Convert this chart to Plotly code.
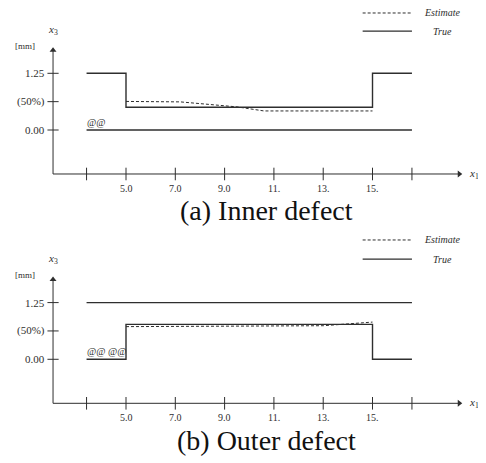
import plotly.graph_objects as go

# ---------------- data ----------------
x_tick_vals = [3.4, 5.0, 7.0, 9.0, 11.0, 13.0, 15.0, 16.6]
x_tick_text = ["", "5.0", "7.0", "9.0", "11.", "13.", "15.", ""]
y_tick_vals = [0.0, 0.625, 1.25]
y_tick_text = ["0.00", "(50%)", "1.25"]

# (a) inner defect
a_true_outer_x = [3.4, 5.0, 5.0, 15.0, 15.0, 16.6]
a_true_outer_y = [1.25, 1.25, 0.50, 0.50, 1.25, 1.25]
a_true_inner_x = [3.4, 16.6]
a_true_inner_y = [0.0, 0.0]
a_est_x = [5.0, 7.2, 9.5, 10.6, 15.0]
a_est_y = [0.63, 0.62, 0.51, 0.42, 0.42]

# (b) outer defect
b_true_outer_x = [3.4, 16.6]
b_true_outer_y = [1.25, 1.25]
b_true_inner_x = [3.4, 5.0, 5.0, 15.0, 15.0, 16.6]
b_true_inner_y = [0.0, 0.0, 0.77, 0.77, 0.0, 0.0]
b_est_x = [5.0, 7.6, 13.0, 15.0]
b_est_y = [0.72, 0.73, 0.74, 0.82]

captions = ["(a) Inner defect", "(b) Outer defect"]
legend_names = ["Estimate", "True"]
marks = ["@@", "@@ @@"]

# ---------------- style ----------------
INK = "#2e2e2e"
SERIF = "Liberation Serif"
AX_X0, AX_X1 = 2.04, 18.52
AX_Y0, AX_Y1 = -0.97, 1.76

fig = go.Figure()
annotations = []


def panel(xr, yr, true_sets, est, mark, caption, leg_y):
    for xs, ys in true_sets:
        fig.add_trace(go.Scatter(x=xs, y=ys, mode="lines", xaxis=xr, yaxis=yr,
                                 line=dict(color=INK, width=1.4), showlegend=False,
                                 hoverinfo="skip"))
    fig.add_trace(go.Scatter(x=est[0], y=est[1], mode="lines", xaxis=xr, yaxis=yr,
                             line=dict(color=INK, width=1, dash="3px,2px"),
                             showlegend=False, hoverinfo="skip"))
    # axes lines
    fig.add_trace(go.Scatter(x=[AX_X0, AX_X1], y=[AX_Y0, AX_Y0], mode="lines",
                             xaxis=xr, yaxis=yr, line=dict(color=INK, width=1),
                             showlegend=False, hoverinfo="skip"))
    fig.add_trace(go.Scatter(x=[AX_X0, AX_X0], y=[AX_Y0, AX_Y1], mode="lines",
                             xaxis=xr, yaxis=yr, line=dict(color=INK, width=1),
                             showlegend=False, hoverinfo="skip"))
    # arrow heads
    fig.add_trace(go.Scatter(x=[AX_X1], y=[AX_Y0], mode="markers", xaxis=xr, yaxis=yr,
                             marker=dict(symbol="triangle-right", size=6, color=INK),
                             showlegend=False, hoverinfo="skip"))
    fig.add_trace(go.Scatter(x=[AX_X0], y=[AX_Y1], mode="markers", xaxis=xr, yaxis=yr,
                             marker=dict(symbol="triangle-up", size=6, color=INK),
                             showlegend=False, hoverinfo="skip"))
    # ticks
    fig.add_trace(go.Scatter(x=x_tick_vals, y=[AX_Y0] * len(x_tick_vals), mode="markers",
                             xaxis=xr, yaxis=yr,
                             marker=dict(symbol="line-ns", size=9,
                                         line=dict(color=INK, width=1)),
                             showlegend=False, hoverinfo="skip"))
    fig.add_trace(go.Scatter(x=[AX_X0] * len(y_tick_vals), y=y_tick_vals, mode="markers",
                             xaxis=xr, yaxis=yr,
                             marker=dict(symbol="line-ew", size=8,
                                         line=dict(color=INK, width=1)),
                             showlegend=False, hoverinfo="skip"))
    # tick labels
    for v, t in zip(x_tick_vals, x_tick_text):
        if t:
            annotations.append(dict(x=v, y=AX_Y0 - 0.31, xref=xr, yref=yr, text=t,
                                    showarrow=False, xanchor="center", yanchor="middle",
                                    font=dict(family=SERIF, size=10, color=INK)))
    for v, t in zip(y_tick_vals, y_tick_text):
        annotations.append(dict(x=1.78, y=v, xref=xr, yref=yr, text=t,
                                showarrow=False, xanchor="right", yanchor="middle",
                                font=dict(family=SERIF, size=11, color=INK)))
    # axis labels
    annotations.append(dict(x=2.05, y=2.2, xref=xr, yref=yr,
                            text="<i>x</i><sub>3</sub>", showarrow=False,
                            font=dict(family=SERIF, size=11, color=INK)))
    annotations.append(dict(x=0.4, y=1.86, xref=xr, yref=yr, text="[mm]",
                            showarrow=False, xanchor="left", yanchor="middle",
                            font=dict(family=SERIF, size=9, color=INK)))
    annotations.append(dict(x=19.1, y=AX_Y0, xref=xr, yref=yr,
                            text="<i>x</i><sub>1</sub>", showarrow=False,
                            font=dict(family=SERIF, size=11, color=INK)))
    # marks
    annotations.append(dict(x=3.35, y=0.17, xref=xr, yref=yr, text=mark,
                            showarrow=False, xanchor="left", yanchor="middle",
                            font=dict(family=SERIF, size=10, color=INK)))
    # caption
    annotations.append(dict(x=10.68, y=-1.78, xref=xr, yref=yr, text=caption,
                            showarrow=False, xanchor="center", yanchor="middle",
                            font=dict(family=SERIF, size=28, color="#111")))
    # legend
    fig.add_trace(go.Scatter(x=[14.6, 16.6], y=[leg_y[0]] * 2, mode="lines",
                             xaxis=xr, yaxis=yr,
                             line=dict(color=INK, width=1, dash="3px,2px"),
                             showlegend=False, hoverinfo="skip"))
    fig.add_trace(go.Scatter(x=[14.6, 16.6], y=[leg_y[1]] * 2, mode="lines",
                             xaxis=xr, yaxis=yr, line=dict(color=INK, width=1.2),
                             showlegend=False, hoverinfo="skip"))
    for name, ly in zip(legend_names, leg_y):
        annotations.append(dict(x=17.85, y=ly, xref=xr, yref=yr,
                                text="<i>" + name + "</i>", showarrow=False,
                                xanchor="center", yanchor="middle",
                                font=dict(family=SERIF, size=10, color=INK)))


panel("x", "y",
      [(a_true_outer_x, a_true_outer_y), (a_true_inner_x, a_true_inner_y)],
      (a_est_x, a_est_y), marks[0], captions[0], (2.58, 2.18))
panel("x2", "y2",
      [(b_true_outer_x, b_true_outer_y), (b_true_inner_x, b_true_inner_y)],
      (b_est_x, b_est_y), marks[1], captions[1], (2.63, 2.21))

# page body has an 8px margin; the figure is sized/ranged to compensate
W, H = 478, 455
split = 1 - 223 / H
fig.update_layout(
    width=W, height=H,
    margin=dict(l=0, r=0, t=0, b=0),
    paper_bgcolor="white", plot_bgcolor="white",
    showlegend=False,
    xaxis=dict(range=[0.213, 19.604], domain=[0, 1], visible=False, anchor="y"),
    yaxis=dict(range=[-2.227, 2.690], domain=[split, 1], visible=False, anchor="x"),
    xaxis2=dict(range=[0.213, 19.604], domain=[0, 1], visible=False, anchor="y2"),
    yaxis2=dict(range=[-2.286, 2.828], domain=[0, split], visible=False, anchor="x2"),
    annotations=annotations,
)

fig.write_html("out.html")
